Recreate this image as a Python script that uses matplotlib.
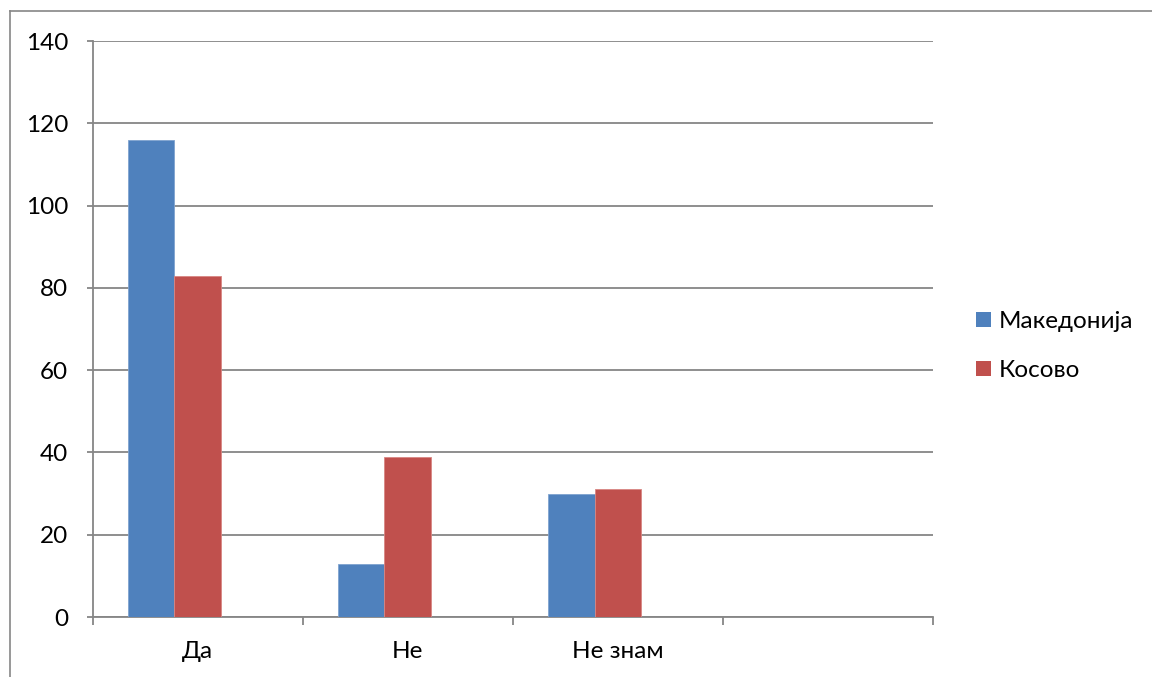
import matplotlib
matplotlib.use('Agg')
import matplotlib.pyplot as plt
from matplotlib.lines import Line2D
import numpy as np

plt.rcParams['font.family'] = ['Lato', 'DejaVu Sans']

# данни
categories = ['Да', 'Не', 'Не знам', '']
makedonija = [116, 13, 30, 0]
kosovo = [83, 39, 31, 0]
series_names = ['Македонија', 'Косово']
yticks = [0, 20, 40, 60, 80, 100, 120, 140]

blue = '#4F81BD'
red = '#C0504D'
grid_c = '#868686'

fig = plt.figure(figsize=(11.52, 6.77), dpi=100)
ax = fig.add_axes([0.0803, 0.0886, 0.7297, 0.8508])

x = np.arange(len(categories))
# Excel: 3 места за серии (третата е празна), gap width 150%
w = 1 / 4.5
ax.bar(x[:3] - w, makedonija[:3], w, color=blue, edgecolor='#7FA3CF',
       linewidth=0.6, label=series_names[0], zorder=3)
ax.bar(x[:3], kosovo[:3], w, color=red, edgecolor='#D88683',
       linewidth=0.6, label=series_names[1], zorder=3)

ax.set_xlim(-0.5, len(categories) - 0.5)
ax.set_ylim(0, 140)
ax.set_yticks(yticks)
ax.yaxis.grid(True, color=grid_c, linewidth=1.3)
ax.set_axisbelow(True)

# граници на категориите (major) и надписи (minor)
ax.set_xticks(np.arange(-0.5, len(categories)))
ax.set_xticklabels([])
ax.set_xticks(x, minor=True)
ax.set_xticklabels(categories, minor=True)
ax.tick_params(axis='x', which='major', direction='out', length=6,
               width=1.3, color=grid_c)
ax.tick_params(axis='x', which='minor', length=0, pad=17, labelsize=17.5)
ax.tick_params(axis='y', direction='out', length=4.5, width=1.3,
               color=grid_c, pad=13, labelsize=17.5)

for s in ['top', 'right']:
    ax.spines[s].set_visible(False)
for s in ['left', 'bottom']:
    ax.spines[s].set_color(grid_c)
    ax.spines[s].set_linewidth(1.3)

leg = ax.legend(loc='upper left', bbox_to_anchor=(1.04, 0.548),
                frameon=False, fontsize=17.5, handlelength=0.6,
                handleheight=0.6, handletextpad=0.3, labelspacing=1.15,
                borderaxespad=0)
for h in leg.legend_handles:
    h.set_edgecolor('none')

# рамка на диаграмата (виде се само лева и горна страна)
fig.add_artist(Line2D([10 / 1152, 10 / 1152], [0, 1 - 11 / 677],
                      color=grid_c, lw=1.2, transform=fig.transFigure))
fig.add_artist(Line2D([10 / 1152, 1], [1 - 11 / 677, 1 - 11 / 677],
                      color=grid_c, lw=1.2, transform=fig.transFigure))

fig.savefig('out.png', dpi=100)
